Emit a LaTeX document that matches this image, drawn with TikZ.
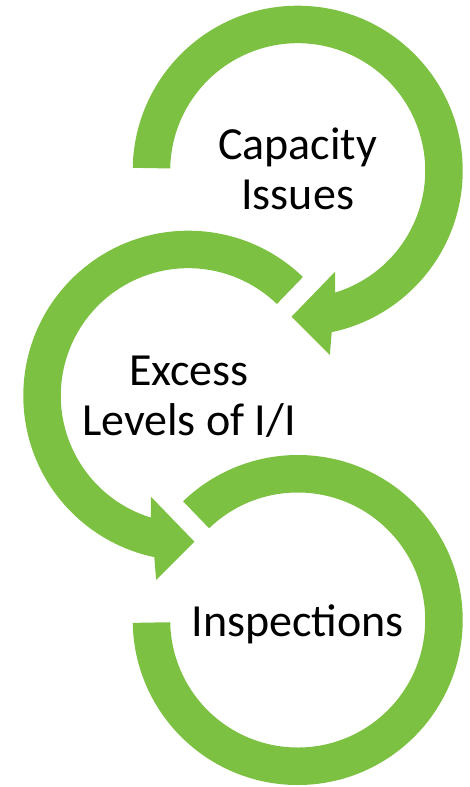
\documentclass[tikz,border=0pt]{standalone}
\usepackage{fontspec}
\setmainfont{Carlito}
\usetikzlibrary{calc}
\definecolor{arrowgreen}{HTML}{7CC142}
\begin{document}
\begin{tikzpicture}[x=1pt,y=1pt,
  arrowband/.style={fill=arrowgreen, draw=none},
  txt/.style={font=\fontsize{46}{50}\selectfont, align=center, text=black, inner sep=0pt}]
\useasboundingbox (0,0) rectangle (469,-787);
\coordinate (c1) at (297.7,-170.7);
\coordinate (c2) at (188.3,-395.7);
\coordinate (c3) at (297.7,-620);
% circle 1: clockwise arrow
\fill[arrowband] ($(c1)+(179:165pt)$) arc[start angle=179, end angle=-78.1, radius=165pt]
  -- ($(c1)+(-80.1:187.1pt)$) -- ($(c1)+(-92.4:146.1pt)$) -- ($(c1)+(-69.7:107.7pt)$)
  -- ($(c1)+(-72.9:127.5pt)$) arc[start angle=-72.9, end angle=179, radius=127.5pt] -- cycle;
% circle 2: counter-clockwise arrow
\fill[arrowband] ($(c2)+(46:165pt)$) arc[start angle=46, end angle=258.1, radius=165pt]
  -- ($(c2)+(260.1:187.1pt)$) -- ($(c2)+(272.4:146.1pt)$) -- ($(c2)+(249.7:107.7pt)$)
  -- ($(c2)+(252.9:127.5pt)$) arc[start angle=252.9, end angle=46, radius=127.5pt] -- cycle;
% circle 3: ring segment
\fill[arrowband] ($(c3)+(181:165pt)$) arc[start angle=181, end angle=494, radius=165pt]
  -- ($(c3)+(134:127.5pt)$) arc[start angle=494, end angle=181, radius=127.5pt] -- cycle;
\node[txt] (t1) at (297.7,-168.8) {Capacity\\Issues};
\node[txt] (t2) at (189,-397) {Excess\\Levels of I/I};
\node[txt, anchor=base] (t3) at (297.7,-636.7) {Inspections};
\end{tikzpicture}
\end{document}
